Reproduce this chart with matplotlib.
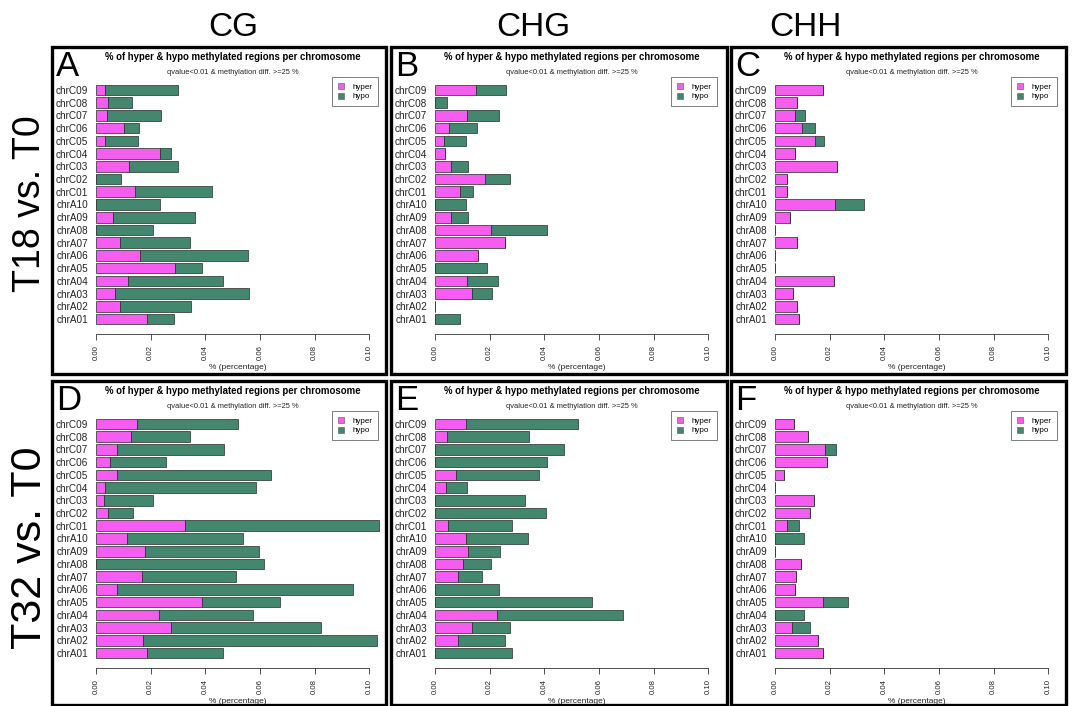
import matplotlib
matplotlib.use("Agg")
import matplotlib.pyplot as plt
from matplotlib.patches import Rectangle, Patch

plt.rcParams['font.family'] = ['Liberation Sans', 'DejaVu Sans']

# chromosomes, bottom to top as drawn by barplot(horiz=TRUE)
chroms = ['chrA01', 'chrA02', 'chrA03', 'chrA04', 'chrA05', 'chrA06', 'chrA07',
          'chrA08', 'chrA09', 'chrA10', 'chrC01', 'chrC02', 'chrC03', 'chrC04',
          'chrC05', 'chrC06', 'chrC07', 'chrC08', 'chrC09']

contexts = ['CG', 'CHG', 'CHH']
comparisons = ['T18 vs. T0', 'T32 vs. T0']
panel_letters = ['A', 'B', 'C', 'D', 'E', 'F']

# % of DMRs per chromosome
t18_cg_hyper = [0.0188, 0.0088, 0.0068, 0.0116, 0.0289, 0.0160, 0.0087, 0.0, 0.0061, 0.0,
                0.0143, 0.0, 0.0120, 0.0235, 0.0034, 0.0104, 0.0040, 0.0043, 0.0034]
t18_cg_hypo = [0.0096, 0.0261, 0.0492, 0.0350, 0.0098, 0.0396, 0.0258, 0.0207, 0.0302, 0.0233,
               0.0281, 0.0093, 0.0180, 0.0038, 0.0118, 0.0053, 0.0197, 0.0087, 0.0265]

t18_chg_hyper = [0.0, 0.0, 0.0137, 0.0116, 0.0, 0.0156, 0.0257, 0.0204, 0.0059, 0.0,
                 0.0093, 0.0183, 0.0059, 0.0038, 0.0034, 0.0051, 0.0116, 0.0, 0.0149]
t18_chg_hypo = [0.0093, 0.0, 0.0070, 0.0113, 0.0190, 0.0, 0.0, 0.0205, 0.0061, 0.0115,
                0.0047, 0.0093, 0.0061, 0.0, 0.0079, 0.0104, 0.0119, 0.0044, 0.0111]

t18_chh_hyper = [0.0088, 0.0080, 0.0065, 0.0216, 0.0, 0.0, 0.0080, 0.0, 0.0055, 0.0218,
                 0.0044, 0.0044, 0.0227, 0.0073, 0.0145, 0.0098, 0.0074, 0.0082, 0.0177]
t18_chh_hypo = [0.0, 0.0, 0.0, 0.0, 0.0, 0.0, 0.0, 0.0, 0.0, 0.0109,
                0.0, 0.0, 0.0, 0.0, 0.0035, 0.0048, 0.0037, 0.0, 0.0]

t32_cg_hyper = [0.0185, 0.0171, 0.0273, 0.0229, 0.0387, 0.0078, 0.0167, 0.0, 0.0178, 0.0113,
                0.0327, 0.0043, 0.0028, 0.0034, 0.0076, 0.0050, 0.0077, 0.0127, 0.0149]
t32_cg_hypo = [0.0281, 0.0859, 0.0551, 0.0344, 0.0286, 0.0862, 0.0344, 0.0616, 0.0418, 0.0424,
               0.0708, 0.0091, 0.0182, 0.0551, 0.0565, 0.0206, 0.0390, 0.0218, 0.0371]

t32_chg_hyper = [0.0, 0.0084, 0.0134, 0.0228, 0.0, 0.0, 0.0083, 0.0101, 0.0120, 0.0113,
                 0.0048, 0.0, 0.0, 0.0039, 0.0076, 0.0, 0.0, 0.0044, 0.0112]
t32_chg_hypo = [0.0280, 0.0173, 0.0140, 0.0459, 0.0574, 0.0234, 0.0088, 0.0103, 0.0119, 0.0228,
                0.0235, 0.0405, 0.0330, 0.0078, 0.0303, 0.0410, 0.0471, 0.0301, 0.0410]

t32_chh_hyper = [0.0174, 0.0159, 0.0063, 0.0, 0.0177, 0.0073, 0.0078, 0.0095, 0.0, 0.0,
                 0.0044, 0.0127, 0.0143, 0.0, 0.0034, 0.0191, 0.0184, 0.0122, 0.0070]
t32_chh_hypo = [0.0, 0.0, 0.0064, 0.0106, 0.0090, 0.0, 0.0, 0.0, 0.0, 0.0106,
                0.0044, 0.0, 0.0, 0.0, 0.0, 0.0, 0.0039, 0.0, 0.0]

panels = [
    (t18_cg_hyper, t18_cg_hypo), (t18_chg_hyper, t18_chg_hypo), (t18_chh_hyper, t18_chh_hypo),
    (t32_cg_hyper, t32_cg_hypo), (t32_chg_hyper, t32_chg_hypo), (t32_chh_hyper, t32_chh_hypo),
]

xticks = [0.00, 0.02, 0.04, 0.06, 0.08, 0.10]

HYPER = '#F45DF0'
HYPO = '#43886E'

W, H = 1072, 706
fig = plt.figure(figsize=(W / 100, H / 100), dpi=100)
fig.patch.set_facecolor('white')

# panel frames in pixels (left, right) and (top, bottom)
col_px = [(52, 386), (391, 727), (731, 1066)]
row_px = [(47, 374), (381, 705)]


def fbox(x0, y0, x1, y1):
    """pixel box (top-left origin) -> figure fraction [l, b, w, h]"""
    return [x0 / W, 1 - y1 / H, (x1 - x0) / W, (y1 - y0) / H]


scale = 2733.0  # px per unit on the x axis
for i, (hyper, hypo) in enumerate(panels):
    r, c = divmod(i, 3)
    pl, pr = col_px[c]
    pt, pb = row_px[r]

    fig.add_artist(Rectangle((pl / W, 1 - pb / H), (pr - pl) / W, (pb - pt) / H,
                             transform=fig.transFigure, fill=False,
                             edgecolor='black', linewidth=2.4))

    zero_x = pl + 44
    top_bar = pt + 43
    bot_bar = pt + 272
    axis_y = pt + 287
    step = (bot_bar - top_bar) / 18.0
    ax_top = pt + 30
    x_lo, x_hi = -0.001, 0.105
    ax = fig.add_axes(fbox(zero_x + x_lo * scale, ax_top, zero_x + x_hi * scale, axis_y))
    ax.set_xlim(x_lo, x_hi)
    ax.set_ylim(-(axis_y - bot_bar) / step, 18 + (top_bar - ax_top) / step)
    ax.patch.set_alpha(0)

    ypos = list(range(len(chroms)))
    ax.barh(ypos, hyper, height=0.83, color=HYPER, edgecolor='#2a2a2a', linewidth=0.5)
    ax.barh(ypos, hypo, left=hyper, height=0.83, color=HYPO, edgecolor='#2a2a2a', linewidth=0.5)

    for s in ['left', 'top', 'right']:
        ax.spines[s].set_visible(False)
    ax.spines['bottom'].set_bounds(0, 0.10)
    ax.spines['bottom'].set_linewidth(0.6)
    ax.spines['bottom'].set_color('#333333')
    ax.set_xticks(xticks)
    ax.set_xticklabels(['%.2f' % v for v in xticks], rotation=90, fontsize=5.6, color='#222222')
    ax.tick_params(axis='x', length=4, width=0.6, color='#333333', pad=4)
    ax.set_yticks(ypos)
    ax.set_yticklabels(chroms, fontsize=7.2, color='#222222')
    ax.tick_params(axis='y', length=0, pad=3.6)
    ax.set_xlabel('% (percentage)', fontsize=6.0, labelpad=3, color='#222222')

    midx = (zero_x + 0.05 * scale) / W
    fig.text(midx, 1 - (pt + 10) / H, '% of hyper & hypo methylated regions per chromosome',
             ha='center', va='center', fontsize=6.9, fontweight='bold')
    fig.text(midx, 1 - (pt + 25) / H, 'qvalue<0.01 & methylation diff. >=25 %',
             ha='center', va='center', fontsize=5.4, color='#222222')
    fig.text((pl + 4) / W, 1 - (pt + 3) / H, panel_letters[i], ha='left', va='top',
             fontsize=25)

    handles = [Patch(facecolor=HYPER, edgecolor='#555555', linewidth=0.4, label='hyper'),
               Patch(facecolor=HYPO, edgecolor='#555555', linewidth=0.4, label='hypo')]
    leg = ax.legend(handles=handles, loc='upper right',
                    bbox_to_anchor=((pl + 326) / W, 1 - (pt + 30) / H),
                    bbox_transform=fig.transFigure, fontsize=5.8, frameon=True,
                    fancybox=False, handlelength=0.8, handleheight=0.8,
                    handletextpad=1.0, borderpad=0.7, labelspacing=0.25, borderaxespad=0)
    leg.get_frame().set_edgecolor('#444444')
    leg.get_frame().set_linewidth(0.6)

# column and row headers
for x, name in zip([233, 533, 805], contexts):
    fig.text(x / W, 1 - 27 / H, name, ha='center', va='center', fontsize=24)
for y, name, size in zip([204, 548], comparisons, [27, 31]):
    fig.text(30 / W, 1 - y / H, name, ha='center', va='center', rotation=90, fontsize=size)

fig.savefig('out.png', dpi=100, facecolor='white')
